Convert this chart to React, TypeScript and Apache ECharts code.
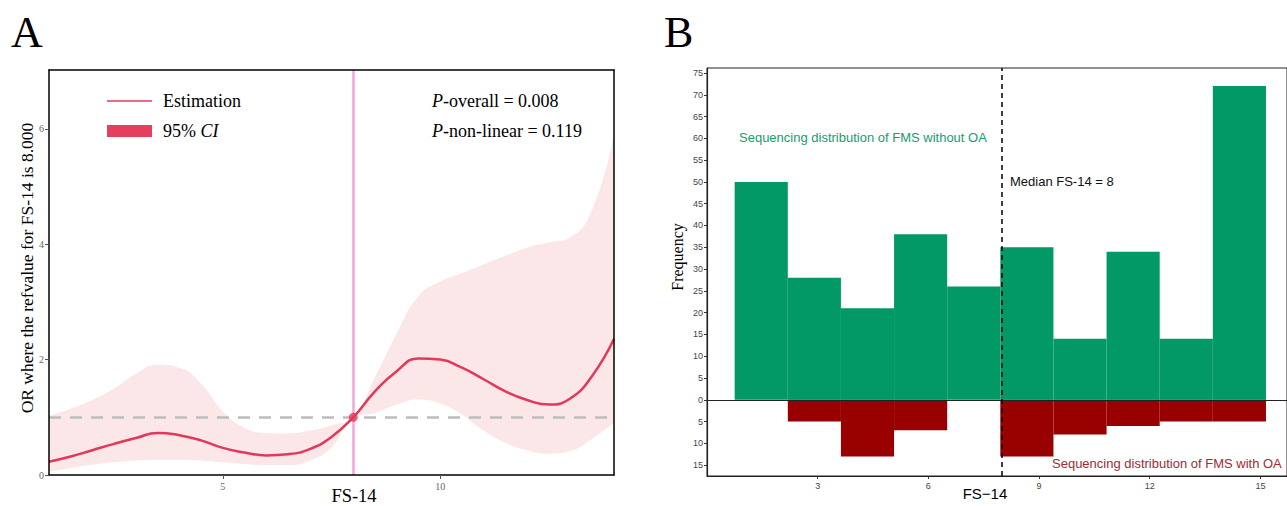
import React, { useEffect, useRef } from "react";
import * as echarts from "echarts";

// Panel A: restricted cubic spline
const splineX = [1, 1.5, 2, 2.5, 3, 3.5, 4, 4.5, 5, 5.5, 6, 6.5, 7, 7.5, 8, 8.5, 9, 9.5, 10, 10.5, 11, 11.5, 12, 12.5, 13, 13.5, 14];
const estimate = [0.23, 0.32, 0.43, 0.54, 0.64, 0.73, 0.69, 0.6, 0.47, 0.39, 0.34, 0.36, 0.45, 0.66, 1.0, 1.45, 1.8, 2.02, 2.0, 1.86, 1.66, 1.45, 1.3, 1.22, 1.33, 1.72, 2.36];
const ciLower = [0.06, 0.12, 0.18, 0.22, 0.25, 0.26, 0.26, 0.25, 0.22, 0.19, 0.17, 0.17, 0.25, 0.48, 1.0, 1.08, 1.22, 1.31, 1.24, 1.05, 0.77, 0.56, 0.43, 0.37, 0.42, 0.63, 0.91];
const ciUpper = [1.03, 1.15, 1.3, 1.5, 1.75, 1.91, 1.86, 1.58, 1.1, 0.82, 0.73, 0.72, 0.77, 0.86, 1.0, 1.7, 2.45, 3.1, 3.35, 3.5, 3.65, 3.8, 3.94, 4.03, 4.12, 4.6, 5.9];
const refValue = 8;
const refOR = 1;
const aYTicks = [0, 2, 4, 6];
const aXTicks = [5, 10];

// Panel B: histograms
const binEdges = [0.75, 2.19, 3.63, 5.07, 6.51, 7.95, 9.39, 10.83, 12.27, 13.71, 15.15];
const countWithoutOA = [50, 28, 21, 38, 26, 35, 14, 34, 14, 72];
const countWithOA = [0, 5, 13, 7, 0, 13, 8, 6, 5, 5];
const bYTicks = [-15, -10, -5, 0, 5, 10, 15, 20, 25, 30, 35, 40, 45, 50, 55, 60, 65, 70, 75];
const bXTicks = [3, 6, 9, 12, 15];
const medianFS = 8;

const SERIF = "'Liberation Serif', 'Times New Roman', serif";
const SANS = "'Liberation Sans', Arial, sans-serif";
const RED = "#E2395B";

export default function App() {
  const ref = useRef<HTMLDivElement>(null);
  useEffect(() => {
    if (!ref.current) return;
    const chart = echarts.init(ref.current, null, { renderer: "svg" });

    const estData = splineX.map((x, i) => [x, estimate[i]]);
    const lowData = splineX.map((x, i) => [x, ciLower[i]]);
    const upData = splineX.map((x, i) => [x, ciUpper[i]]);
    const greenData = countWithoutOA.map((c, i) => [binEdges[i], binEdges[i + 1], c]);
    const redData = countWithOA.map((c, i) => [binEdges[i], binEdges[i + 1], -c]);

    const barRender = (color: string) => (params: any, api: any) => {
      const v = api.value(2);
      if (v === 0) return null;
      const s = api.coord([api.value(0), v]);
      const e = api.coord([api.value(1), 0]);
      return {
        type: "rect",
        shape: { x: s[0], y: Math.min(s[1], e[1]), width: e[0] - s[0], height: Math.abs(e[1] - s[1]) },
        style: { fill: color },
      };
    };

    const lineOnly = { show: true, lineStyle: { color: "#000", width: 1.5 } };
    const SM = 0.5;

    chart.setOption({
      animation: false,
      grid: [
        { left: 49, right: 673, top: 70, bottom: 31, show: false },
        { left: 707, right: -4, top: 68, bottom: 30, show: true, borderColor: "#222", borderWidth: 1, backgroundColor: "transparent" },
      ],
      xAxis: [
        {
          gridIndex: 0, type: "value", min: 1, max: 14, splitLine: { show: false }, z: 10,
          axisLine: { onZero: false, lineStyle: { color: "#000", width: 1.5 } },
          axisTick: { show: true, length: 4, lineStyle: { color: "#555" }, customValues: aXTicks },
          axisLabel: { customValues: aXTicks, color: "#666", fontSize: 10, fontFamily: SERIF, margin: 6 },
        },
        {
          gridIndex: 1, type: "value", min: 0, max: 15.72, splitLine: { show: false },
          axisLine: { onZero: false, lineStyle: { color: "#222", width: 1.2 } },
          axisTick: { show: true, length: 3, lineStyle: { color: "#333" }, customValues: bXTicks },
          axisLabel: { customValues: bXTicks, color: "#444", fontSize: 9, fontFamily: SANS, margin: 5 },
        },
        {
          gridIndex: 0, type: "value", min: 1, max: 14, position: "top", z: 10,
          axisLine: { ...lineOnly, onZero: false }, axisTick: { show: false }, axisLabel: { show: false }, splitLine: { show: false },
        },
      ],
      yAxis: [
        {
          gridIndex: 0, type: "value", min: 0, max: 7.02, splitLine: { show: false }, z: 10,
          axisLine: { show: true, onZero: false, lineStyle: { color: "#000", width: 1.5 } },
          axisTick: { show: true, length: 4, lineStyle: { color: "#555" }, customValues: aYTicks },
          axisLabel: { customValues: aYTicks, color: "#666", fontSize: 10, fontFamily: SERIF, margin: 5 },
        },
        {
          gridIndex: 1, type: "value", min: -17.5, max: 76.15, splitLine: { show: false },
          axisLine: { show: true, onZero: false, lineStyle: { color: "#222", width: 1.2 } },
          axisTick: { show: true, length: 3, lineStyle: { color: "#333" }, customValues: bYTicks },
          axisLabel: {
            customValues: bYTicks, color: "#444", fontSize: 9, fontFamily: SANS, margin: 4,
            formatter: (v: number) => String(Math.abs(v)),
          },
        },
        {
          gridIndex: 0, type: "value", min: 0, max: 7.02, position: "right", z: 10,
          axisLine: { ...lineOnly, onZero: false }, axisTick: { show: false }, axisLabel: { show: false }, splitLine: { show: false },
        },
      ],
      series: [
        {
          name: "95% CI", type: "line", xAxisIndex: 0, yAxisIndex: 0, data: upData, z: 1,
          smooth: SM, symbol: "none", lineStyle: { opacity: 0 }, areaStyle: { color: "#FBE6E8", opacity: 1, origin: "start" }, silent: true,
        },
        {
          name: "CI lower", type: "line", xAxisIndex: 0, yAxisIndex: 0, data: lowData, z: 1.5,
          smooth: SM, symbol: "none", lineStyle: { opacity: 0 }, areaStyle: { color: "#FFFFFF", opacity: 1, origin: "start" }, silent: true,
        },
        {
          name: "ref lines", type: "line", xAxisIndex: 0, yAxisIndex: 0, data: [], z: 3,
          markLine: {
            silent: true, symbol: ["none", "none"], label: { show: false },
            data: [
              { yAxis: refOR, lineStyle: { color: "#BDBDBD", width: 2.5, type: [12, 9] } },
              { xAxis: refValue, lineStyle: { color: "#F2A6D8", width: 2.5, type: "solid" } },
            ],
          },
        },
        {
          name: "Estimation", type: "line", xAxisIndex: 0, yAxisIndex: 0, data: estData,
          smooth: SM, symbol: "none", lineStyle: { color: RED, width: 2.5 }, z: 5,
        },
        {
          name: "ref", type: "scatter", xAxisIndex: 0, yAxisIndex: 0, data: [[refValue, refOR]],
          symbolSize: 9, itemStyle: { color: RED }, z: 6,
        },
        {
          name: "without OA", type: "custom", xAxisIndex: 1, yAxisIndex: 1, data: greenData,
          encode: { x: [0, 1], y: 2 }, renderItem: barRender("#039966"),
        },
        {
          name: "with OA", type: "custom", xAxisIndex: 1, yAxisIndex: 1, data: redData,
          encode: { x: [0, 1], y: 2 }, renderItem: barRender("#990000"),
        },
        {
          name: "lines B", type: "line", xAxisIndex: 1, yAxisIndex: 1, data: [], z: 10,
          markLine: {
            silent: true, symbol: ["none", "none"], label: { show: false },
            data: [
              { yAxis: 0, lineStyle: { color: "#222", width: 1, type: "solid" } },
              { xAxis: medianFS, lineStyle: { color: "#000", width: 1.5, type: [5, 4] } },
            ],
          },
        },
      ],
      graphic: {
        elements: [
          { type: "text", x: 11, y: 32, z: 100, style: { text: "A", font: `44px ${SERIF}`, fill: "#000", verticalAlign: "middle" } },
          { type: "text", x: 664, y: 32, z: 100, style: { text: "B", font: `44px ${SERIF}`, fill: "#000", verticalAlign: "middle" } },
          {
            type: "text", x: 27, y: 268, rotation: Math.PI / 2, z: 100,
            style: { text: "OR where the refvalue for FS-14 is 8.000", font: `17.5px ${SERIF}`, fill: "#000", align: "center", verticalAlign: "middle" },
          },
          { type: "text", x: 354, y: 496, z: 100, style: { text: "FS-14", font: `18.5px ${SERIF}`, fill: "#000", align: "center", verticalAlign: "middle" } },
          { type: "line", z: 100, shape: { x1: 107, y1: 101, x2: 152, y2: 101 }, style: { stroke: RED, lineWidth: 1.5 } },
          { type: "rect", z: 100, shape: { x: 107, y: 125, width: 45, height: 12 }, style: { fill: "#E4405C" } },
          { type: "text", x: 163, y: 101, z: 100, style: { text: "Estimation", font: `18px ${SERIF}`, fill: "#000", verticalAlign: "middle" } },
          {
            type: "text", x: 163, y: 131, z: 100,
            style: {
              text: "95% {i|CI}", font: `18px ${SERIF}`, fill: "#000", verticalAlign: "middle",
              rich: { i: { fontStyle: "italic", fontFamily: SERIF, fontSize: 18 } },
            },
          },
          {
            type: "text", x: 432, y: 101, z: 100,
            style: {
              text: "{i|P}-overall = 0.008", font: `18px ${SERIF}`, fill: "#000", verticalAlign: "middle",
              rich: { i: { fontStyle: "italic", fontFamily: SERIF, fontSize: 18 } },
            },
          },
          {
            type: "text", x: 432, y: 131, z: 100,
            style: {
              text: "{i|P}-non-linear = 0.119", font: `18px ${SERIF}`, fill: "#000", verticalAlign: "middle",
              rich: { i: { fontStyle: "italic", fontFamily: SERIF, fontSize: 18 } },
            },
          },
          {
            type: "text", x: 677, y: 257, rotation: Math.PI / 2, z: 100,
            style: { text: "Frequency", font: `16px ${SERIF}`, fill: "#000", align: "center", verticalAlign: "middle" },
          },
          { type: "text", x: 985, y: 493, z: 100, style: { text: "FS\u221214", font: `15px ${SANS}`, fill: "#000", align: "center", verticalAlign: "middle" } },
          { type: "text", x: 739, y: 137, z: 100, style: { text: "Sequencing distribution of FMS without OA", font: `13px ${SANS}`, fill: "#12A06C", verticalAlign: "middle" } },
          { type: "text", x: 1010, y: 181, z: 100, style: { text: "Median FS-14 = 8", font: `13px ${SANS}`, fill: "#111", verticalAlign: "middle" } },
          { type: "text", x: 1052, y: 463, z: 100, style: { text: "Sequencing distribution of FMS with OA", font: `13px ${SANS}`, fill: "#A8282E", verticalAlign: "middle" } },
        ],
      },
    });
    return () => chart.dispose();
  }, []);
  return <div ref={ref} style={{ position: "fixed", left: 0, top: 0, width: 1287, height: 506, background: "#fff" }} />;
}
